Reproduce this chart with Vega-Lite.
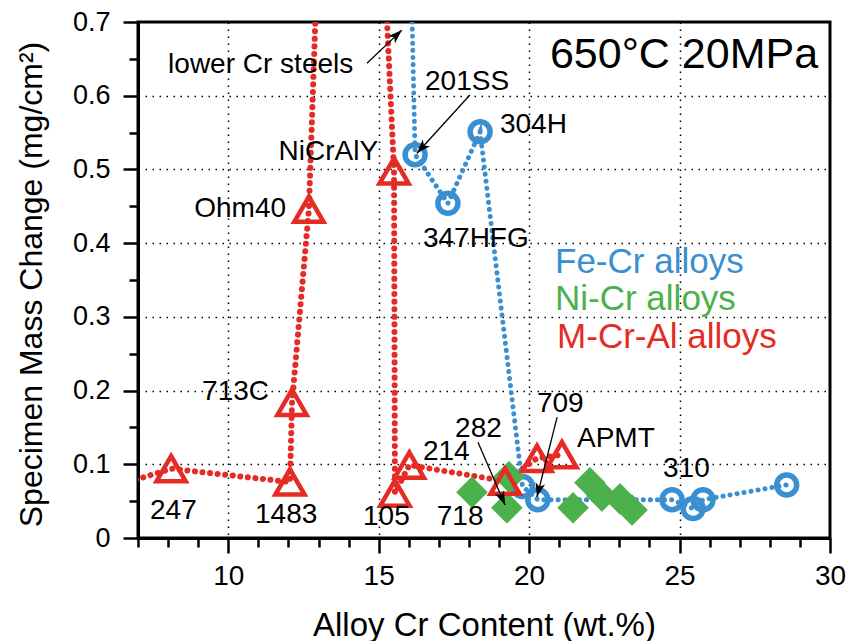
{
  "$schema": "https://vega.github.io/schema/vega-lite/v6.json",
  "width": 692,
  "height": 516,
  "autosize": {"type": "none"},
  "padding": {"left": 138, "top": 22, "right": 19, "bottom": 103},
  "background": "white",
  "config": {
    "view": {"stroke": "black", "strokeWidth": 3},
    "font": "Liberation Sans"
  },
  "datasets": {
    "alloys": [
      {"series": "Fe-Cr alloys", "cr": 15.4, "mass": 2.0},
      {"series": "Fe-Cr alloys", "cr": 16.21, "mass": 0.52},
      {"series": "Fe-Cr alloys", "cr": 17.3, "mass": 0.454},
      {"series": "Fe-Cr alloys", "cr": 18.37, "mass": 0.551},
      {"series": "Fe-Cr alloys", "cr": 19.78, "mass": 0.07},
      {"series": "Fe-Cr alloys", "cr": 20.29, "mass": 0.052},
      {"series": "Fe-Cr alloys", "cr": 24.75, "mass": 0.052},
      {"series": "Fe-Cr alloys", "cr": 25.45, "mass": 0.04},
      {"series": "Fe-Cr alloys", "cr": 25.78, "mass": 0.052},
      {"series": "Fe-Cr alloys", "cr": 28.56, "mass": 0.072},
      {"series": "Ni-Cr alloys", "cr": 18.1, "mass": 0.062},
      {"series": "Ni-Cr alloys", "cr": 19.26, "mass": 0.041},
      {"series": "Ni-Cr alloys", "cr": 19.33, "mass": 0.083},
      {"series": "Ni-Cr alloys", "cr": 21.46, "mass": 0.041},
      {"series": "Ni-Cr alloys", "cr": 22.02, "mass": 0.075},
      {"series": "Ni-Cr alloys", "cr": 22.42, "mass": 0.057},
      {"series": "Ni-Cr alloys", "cr": 23.02, "mass": 0.053},
      {"series": "Ni-Cr alloys", "cr": 23.42, "mass": 0.038},
      {"series": "M-Cr-Al alloys", "cr": 5.0, "mass": 0.055},
      {"series": "M-Cr-Al alloys", "cr": 8.1, "mass": 0.094},
      {"series": "M-Cr-Al alloys", "cr": 12.05, "mass": 0.076},
      {"series": "M-Cr-Al alloys", "cr": 12.12, "mass": 0.184},
      {"series": "M-Cr-Al alloys", "cr": 12.68, "mass": 0.446},
      {"series": "M-Cr-Al alloys", "cr": 13.9, "mass": 1.9},
      {"series": "M-Cr-Al alloys", "cr": 15.51, "mass": 0.498},
      {"series": "M-Cr-Al alloys", "cr": 15.54, "mass": 0.061},
      {"series": "M-Cr-Al alloys", "cr": 16.02, "mass": 0.099},
      {"series": "M-Cr-Al alloys", "cr": 19.2, "mass": 0.077},
      {"series": "M-Cr-Al alloys", "cr": 20.26, "mass": 0.108},
      {"series": "M-Cr-Al alloys", "cr": 21.09, "mass": 0.113}
    ],
    "arrows": [
      {"cr0": 14.61, "mass0": 0.644, "cr": 15.77, "mass": 0.689, "angle": 46.7},
      {"cr0": 18.03, "mass0": 0.601, "cr": 16.27, "mass": 0.522, "angle": 222.4},
      {"cr0": 18.3, "mass0": 0.13, "cr": 19.2, "mass": 0.0448, "angle": 156.8},
      {"cr0": 20.93, "mass0": 0.164, "cr": 20.26, "mass": 0.0556, "angle": 194}
    ],
    "notesLeft": [
      {"label": "lower Cr steels", "cr": 8.0, "mass": 0.631},
      {"label": "201SS", "cr": 16.54, "mass": 0.608},
      {"label": "304H", "cr": 19.03, "mass": 0.549},
      {"label": "347HFG", "cr": 16.47, "mass": 0.395},
      {"label": "713C", "cr": 9.13, "mass": 0.187},
      {"label": "247", "cr": 7.4, "mass": 0.026},
      {"label": "1483", "cr": 10.89, "mass": 0.02},
      {"label": "105", "cr": 14.48, "mass": 0.018},
      {"label": "214", "cr": 16.47, "mass": 0.106},
      {"label": "282", "cr": 17.54, "mass": 0.137},
      {"label": "709", "cr": 20.26, "mass": 0.171},
      {"label": "APMT", "cr": 21.59, "mass": 0.123},
      {"label": "310", "cr": 24.45, "mass": 0.083},
      {"label": "718", "cr": 16.93, "mass": 0.018}
    ],
    "notesRight": [
      {"label": "NiCrAlY", "cr": 14.98, "mass": 0.513},
      {"label": "Ohm40", "cr": 11.92, "mass": 0.436}
    ],
    "condition": [
      {"label": "650°C 20MPa", "cr": 20.69, "mass": 0.638}
    ],
    "legendText": [
      {"series": "Fe-Cr alloys", "cr": 20.86, "mass": 0.3595},
      {"series": "Ni-Cr alloys", "cr": 20.86, "mass": 0.309},
      {"series": "M-Cr-Al alloys", "cr": 20.93, "mass": 0.258}
    ]
  },
  "encoding": {
    "x": {
      "field": "cr",
      "type": "quantitative",
      "scale": {"domain": [7, 30], "nice": false, "zero": false},
      "axis": {
        "title": "Alloy Cr Content (wt.%)",
        "values": [7, 8, 9, 10, 11, 12, 13, 14, 15, 16, 17, 18, 19, 20, 21, 22, 23, 24, 25, 26, 27, 28, 29, 30],
        "labelExpr": "datum.value % 5 === 0 && datum.value > 7 ? '' + datum.value : ''",
        "labelFontSize": 28,
        "labelFont": "Liberation Sans",
        "labelColor": "black",
        "labelPadding": 9,
        "labelFlush": false,
        "labelOverlap": false,
        "tickSize": {"condition": {"test": "datum.value % 5 === 0", "value": 15}, "value": 9},
        "tickWidth": 2.5,
        "tickColor": "black",
        "domainColor": "black",
        "domainWidth": 3,
        "grid": true,
        "gridColor": "black",
        "gridDash": [1.5, 5.5],
        "gridWidth": 1.5,
        "gridOpacity": {"condition": {"test": "datum.value % 5 === 0 && datum.value > 7 && datum.value < 30", "value": 1}, "value": 0},
        "titleFontSize": 33,
        "titleFont": "Liberation Sans",
        "titleFontWeight": "normal",
        "titleColor": "black",
        "titleY": 97,
        "titleBaseline": "alphabetic"
      }
    },
    "y": {
      "field": "mass",
      "type": "quantitative",
      "scale": {"domain": [0, 0.7], "nice": false, "zero": false},
      "axis": {
        "title": "Specimen Mass Change (mg/cm²)",
        "values": [0, 0.05, 0.1, 0.15, 0.2, 0.25, 0.3, 0.35, 0.4, 0.45, 0.5, 0.55, 0.6, 0.65, 0.7],
        "labelExpr": "round(datum.value * 100) % 10 === 0 ? '' + round(datum.value * 10) / 10 : ''",
        "labelFontSize": 27,
        "labelFont": "Liberation Sans",
        "labelColor": "black",
        "labelPadding": 13,
        "labelFlush": false,
        "labelOverlap": false,
        "tickSize": {"condition": {"test": "round(datum.value * 100) % 10 === 0", "value": 15}, "value": 9},
        "tickWidth": 2.5,
        "tickColor": "black",
        "domainColor": "black",
        "domainWidth": 3,
        "grid": true,
        "gridColor": "black",
        "gridDash": [1.5, 5.5],
        "gridWidth": 1.5,
        "gridOpacity": {"condition": {"test": "round(datum.value * 100) % 10 === 0 && datum.value > 0.01 && datum.value < 0.69", "value": 1}, "value": 0},
        "titleFontSize": 32,
        "titleFont": "Liberation Sans",
        "titleFontWeight": "normal",
        "titleColor": "black",
        "titleX": -107,
        "titleY": 262,
        "titleBaseline": "middle"
      }
    }
  },
  "layer": [
    {
      "data": {"name": "alloys"},
      "transform": [{"filter": "datum.series === 'M-Cr-Al alloys'"}],
      "mark": {"type": "line", "clip": true, "color": "#e52b25", "strokeWidth": 6, "strokeDash": [0.1, 7.5], "strokeCap": "round"}
    },
    {
      "data": {"name": "alloys"},
      "transform": [{"filter": "datum.series === 'Fe-Cr alloys'"}],
      "mark": {"type": "line", "clip": true, "color": "#3a8fd1", "strokeWidth": 5, "strokeDash": [0.1, 7], "strokeCap": "round"}
    },
    {
      "data": {"name": "alloys"},
      "transform": [{"filter": "datum.series === 'Fe-Cr alloys'"}],
      "mark": {"type": "point", "clip": true, "shape": "circle", "filled": false, "stroke": "#3a8fd1", "strokeWidth": 5.5, "size": 400, "opacity": 1}
    },
    {
      "data": {"name": "alloys"},
      "transform": [{"filter": "datum.series === 'Ni-Cr alloys'"}],
      "mark": {"type": "point", "clip": true, "shape": "diamond", "filled": true, "fill": "#4cb04c", "strokeWidth": 0, "size": 1000, "opacity": 1}
    },
    {
      "data": {"name": "alloys"},
      "transform": [{"filter": "datum.series === 'M-Cr-Al alloys'"}],
      "mark": {"type": "point", "clip": true, "shape": "triangle-up", "filled": false, "stroke": "#e52b25", "strokeWidth": 4.5, "size": 850, "opacity": 1}
    },
    {
      "data": {"name": "arrows"},
      "mark": {"type": "rule", "color": "black", "strokeWidth": 1.3},
      "encoding": {
        "x2": {"field": "cr0"},
        "y2": {"field": "mass0"}
      }
    },
    {
      "data": {"name": "arrows"},
      "mark": {"type": "point", "shape": "M0,0L0.7,2L0,1.5L-0.7,2Z", "filled": true, "fill": "black", "strokeWidth": 0, "size": 196, "opacity": 1},
      "encoding": {
        "angle": {"field": "angle", "type": "quantitative", "scale": null}
      }
    },
    {
      "data": {"name": "notesLeft"},
      "mark": {"type": "text", "align": "left", "baseline": "alphabetic", "font": "Liberation Sans", "fontSize": 28, "color": "black"},
      "encoding": {"text": {"field": "label"}}
    },
    {
      "data": {"name": "notesRight"},
      "mark": {"type": "text", "align": "right", "baseline": "alphabetic", "font": "Liberation Sans", "fontSize": 28, "color": "black"},
      "encoding": {"text": {"field": "label"}}
    },
    {
      "data": {"name": "condition"},
      "mark": {"type": "text", "align": "left", "baseline": "alphabetic", "font": "Liberation Sans", "fontSize": 43, "color": "black"},
      "encoding": {"text": {"field": "label"}}
    },
    {
      "data": {"name": "legendText"},
      "mark": {"type": "text", "align": "left", "baseline": "alphabetic", "font": "Liberation Sans", "fontSize": 35},
      "encoding": {
        "text": {"field": "series"},
        "color": {
          "field": "series",
          "type": "nominal",
          "scale": {"domain": ["Fe-Cr alloys", "Ni-Cr alloys", "M-Cr-Al alloys"], "range": ["#3a8fd1", "#4cb04c", "#e52b25"]},
          "legend": null
        }
      }
    }
  ]
}
